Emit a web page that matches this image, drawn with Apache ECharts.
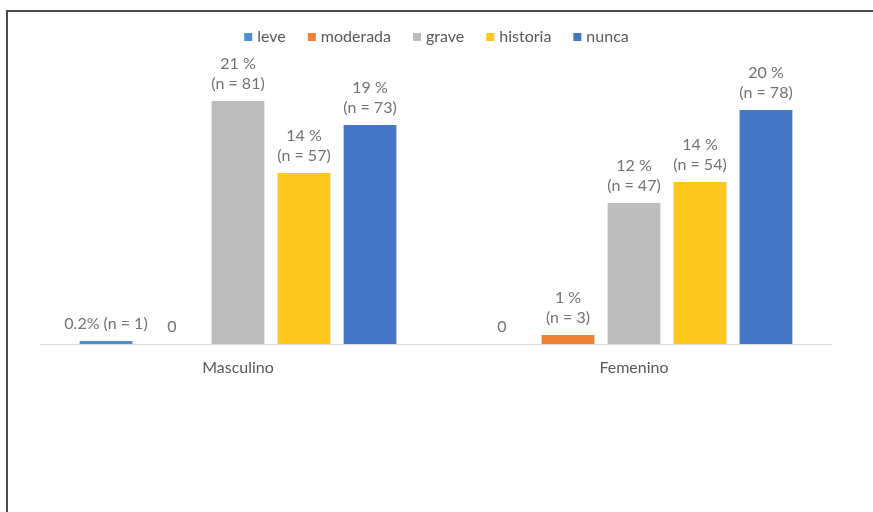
<!DOCTYPE html>
<html>
<head>
<meta charset="utf-8">
<script src="https://cdn.jsdelivr.net/npm/echarts@6/dist/echarts.min.js"></script>
<style>
  html, body { margin: 0; padding: 0; background: #ffffff; }
  #chart { width: 873px; height: 512px; }
</style>
</head>
<body>
<div id="chart"></div>
<script>
// ---- data ----
var categories = ['Masculino', 'Femenino'];
var seriesNames = ['leve', 'moderada', 'grave', 'historia', 'nunca'];
var nLeve = [1, 0];
var nModerada = [0, 3];
var nGrave = [81, 47];
var nHistoria = [57, 54];
var nNunca = [73, 78];
var pctLeve = ['0.2%', ''];
var pctModerada = ['', '1 %'];
var pctGrave = ['21 %', '12 %'];
var pctHistoria = ['14 %', '14 %'];
var pctNunca = ['19 %', '20 %'];

var colors = ['#4A90D6', '#EF8033', '#BDBDBD', '#FFC61E', '#4677C6'];
var values = [nLeve, nModerada, nGrave, nHistoria, nNunca];
var pcts = [pctLeve, pctModerada, pctGrave, pctHistoria, pctNunca];

var chart = echarts.init(document.getElementById('chart'), null, { renderer: 'canvas' });

var series = seriesNames.map(function (name, si) {
  return {
    name: name,
    type: 'bar',
    data: values[si],
    itemStyle: { color: colors[si] },
    barGap: '25%',
    barCategoryGap: '20%',
    label: {
      show: true,
      position: 'top',
      distance: 7,
      color: '#767171',
      fontFamily: 'Lato',
      fontSize: 16,
      lineHeight: 20,
      formatter: function (p) {
        var n = p.value;
        if (n === 0) return '0';
        var pc = pcts[si][p.dataIndex];
        if (pc.indexOf(' %') >= 0) return pc + '\n(n = ' + n + ')';
        return pc + ' (n = ' + n + ')';
      }
    }
  };
});

chart.setOption({
  animation: false,
  backgroundColor: '#ffffff',
  legend: {
    top: 24,
    left: 'center',
    itemWidth: 8,
    itemHeight: 8,
    itemGap: 22,
    icon: 'rect',
    textStyle: { color: '#595959', fontFamily: 'Lato', fontSize: 16 },
    data: seriesNames
  },
  grid: { left: 40, right: 41, top: 74, bottom: 168, containLabel: false },
  xAxis: {
    type: 'category',
    data: categories,
    axisLine: { show: true, lineStyle: { color: '#D9D9D9', width: 1 } },
    axisTick: { show: false },
    axisLabel: { color: '#595959', fontFamily: 'Lato', fontSize: 16, margin: 16 }
  },
  yAxis: {
    type: 'value',
    min: 0,
    max: 90,
    show: false,
    splitLine: { show: false }
  },
  graphic: [
    { type: 'line', shape: { x1: 7, y1: 10, x2: 7, y2: 512 }, style: { stroke: '#4a4a4a', lineWidth: 2 } },
    { type: 'line', shape: { x1: 6, y1: 11, x2: 873, y2: 11 }, style: { stroke: '#4a4a4a', lineWidth: 2 } }
  ],
  series: series
});
</script>
</body>
</html>
